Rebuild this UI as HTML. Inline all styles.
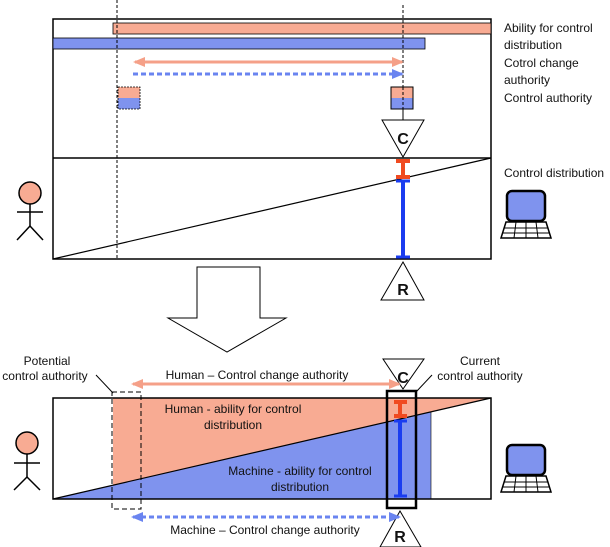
<!DOCTYPE html>
<html><head><style>body{margin:0;background:#fff}svg{display:block}text{font-family:"Liberation Sans",sans-serif;fill:#111}</style></head><body>
<svg width="610" height="547" viewBox="0 0 610 547" xmlns="http://www.w3.org/2000/svg">
<defs>
<marker id="pa" markerUnits="userSpaceOnUse" markerWidth="12" markerHeight="12" viewBox="0 0 12 12" refX="10" refY="6" orient="auto-start-reverse"><path d="M0,1 L12,6 L0,11Z" fill="#f5a088"/></marker>
<marker id="ba" markerUnits="userSpaceOnUse" markerWidth="12" markerHeight="12" viewBox="0 0 12 12" refX="10" refY="6" orient="auto-start-reverse"><path d="M0,1 L12,6 L0,11Z" fill="#6a84f0"/></marker>
</defs>
<!-- top box -->
<rect x="53" y="19" width="438" height="240" fill="#fff" stroke="#000" stroke-width="1.5"/>
<rect x="113" y="23" width="378" height="11" fill="#f8ab93" stroke="#000" stroke-width="0.8"/>
<rect x="53" y="38" width="372" height="11" fill="#7f93ee" stroke="#000" stroke-width="0.8"/>
<line x1="53" y1="158" x2="491" y2="158" stroke="#000" stroke-width="1.5"/>
<line x1="53" y1="259" x2="491" y2="158" stroke="#000" stroke-width="1.2"/>
<line x1="117" y1="0" x2="117" y2="260" stroke="#000" stroke-dasharray="3,2"/>
<line x1="403" y1="5" x2="403" y2="140" stroke="#000" stroke-dasharray="3,2"/>
<line x1="135" y1="62" x2="402" y2="62" stroke="#f5a088" stroke-width="3" marker-start="url(#pa)" marker-end="url(#pa)"/>
<line x1="133" y1="74" x2="402" y2="74" stroke="#6a84f0" stroke-width="3" stroke-dasharray="5,3" marker-end="url(#ba)"/>
<rect x="118" y="87" width="22" height="11" fill="#f8ab93"/><rect x="118" y="98" width="22" height="11" fill="#7f93ee"/>
<rect x="118" y="87" width="22" height="22" fill="none" stroke="#000" stroke-width="0.8" stroke-dasharray="2,1"/>
<rect x="391" y="87" width="22" height="11" fill="#f8ab93"/><rect x="391" y="98" width="22" height="11" fill="#7f93ee"/>
<rect x="391" y="87" width="22" height="22" fill="none" stroke="#000" stroke-width="1"/>
<line x1="403" y1="87" x2="403" y2="120" stroke="#000" stroke-dasharray="3,2"/>
<path d="M382,120 L424,120 L403,157Z" fill="#fff" stroke="#000"/>
<text x="403" y="144" font-size="16" font-weight="bold" text-anchor="middle">C</text>
<line x1="403" y1="161" x2="403" y2="177" stroke="#f04a20" stroke-width="4"/>
<line x1="396" y1="161" x2="410" y2="161" stroke="#f04a20" stroke-width="4"/>
<line x1="396" y1="177" x2="410" y2="177" stroke="#f04a20" stroke-width="4"/>
<line x1="403" y1="180" x2="403" y2="258" stroke="#1a3cf0" stroke-width="4"/>
<line x1="396" y1="181" x2="410" y2="181" stroke="#1a3cf0" stroke-width="3"/>
<line x1="396" y1="257" x2="410" y2="257" stroke="#1a3cf0" stroke-width="3"/>
<path d="M403,262 L424,300 L381,300Z" fill="#fff" stroke="#000"/>
<text x="403" y="295" font-size="16" font-weight="bold" text-anchor="middle">R</text>
<text font-size="12"><tspan x="504" y="32">Ability for control</tspan><tspan x="504" y="49">distribution</tspan><tspan x="504" y="67">Cotrol change</tspan><tspan x="504" y="84">authority</tspan><tspan x="504" y="102">Control authority</tspan><tspan x="504" y="177">Control distribution</tspan></text>
<!-- human top -->
<g stroke="#000" stroke-width="1.5" fill="none">
<circle cx="30" cy="193" r="11" fill="#f8ab93"/>
<line x1="30" y1="204" x2="30" y2="226"/><line x1="17" y1="212" x2="43" y2="212"/>
<line x1="30" y1="226" x2="17" y2="240"/><line x1="30" y1="226" x2="43" y2="240"/>
</g>
<!-- computer top -->
<g stroke="#000" stroke-width="1.5">
<rect x="507" y="191" width="38" height="30" rx="5" fill="#7f93ee" stroke-width="2.5"/>
<path d="M506,222 L546,222 L551,238 L501,238Z" fill="#fff"/>
<line x1="504" y1="228" x2="548" y2="228" stroke-width="1"/><line x1="503" y1="233" x2="549" y2="233" stroke-width="1"/>
<line x1="516" y1="222" x2="514" y2="238" stroke-width="1"/><line x1="526" y1="222" x2="526" y2="238" stroke-width="1"/><line x1="536" y1="222" x2="538" y2="238" stroke-width="1"/>
</g>
<!-- big arrow -->
<path d="M197,267 L260,267 L260,318 L286,318 L227,352 L168,318 L197,318Z" fill="#fff" stroke="#000"/>
<!-- bottom box -->
<rect x="53" y="398" width="438" height="101" fill="#fff"/>
<path d="M113,398 L491,398 L113,485.2Z" fill="#f8ab93"/>
<path d="M53,499 L431,411.8 L431,499Z" fill="#7f93ee"/>
<rect x="53" y="398" width="438" height="101" fill="none" stroke="#000" stroke-width="1.5"/>
<line x1="53" y1="499" x2="491" y2="398" stroke="#000" stroke-width="1.2"/>
<line x1="431" y1="412" x2="431" y2="499" stroke="#000" stroke-width="0.6"/>
<rect x="112" y="392" width="29" height="117" fill="none" stroke="#000" stroke-dasharray="5,3"/>
<rect x="387" y="391" width="29" height="117" fill="none" stroke="#000" stroke-width="2.5"/>
<line x1="400" y1="402" x2="400" y2="416" stroke="#f04a20" stroke-width="4"/>
<line x1="394" y1="402" x2="407" y2="402" stroke="#f04a20" stroke-width="4"/>
<line x1="394" y1="416" x2="407" y2="416" stroke="#f04a20" stroke-width="4"/>
<line x1="400" y1="420" x2="400" y2="497" stroke="#1a3cf0" stroke-width="4"/>
<line x1="394" y1="421" x2="407" y2="421" stroke="#1a3cf0" stroke-width="3"/>
<line x1="394" y1="496" x2="407" y2="496" stroke="#1a3cf0" stroke-width="3"/>
<path d="M383,359 L424,359 L403,389Z" fill="#fff" stroke="#000"/>
<text x="403" y="383" font-size="16" font-weight="bold" text-anchor="middle">C</text>
<path d="M400,511 L421,547 L380,547Z" fill="#fff" stroke="#000"/>
<text x="400" y="542" font-size="16" font-weight="bold" text-anchor="middle">R</text>
<line x1="133" y1="384" x2="399" y2="384" stroke="#f5a088" stroke-width="3" marker-start="url(#pa)" marker-end="url(#pa)"/>
<line x1="133" y1="517" x2="399" y2="517" stroke="#6a84f0" stroke-width="3" stroke-dasharray="5,3" marker-start="url(#ba)" marker-end="url(#ba)"/>
<line x1="96" y1="375" x2="113" y2="393" stroke="#000"/>
<line x1="432" y1="375" x2="416" y2="392" stroke="#000"/>
<text font-size="12" text-anchor="middle"><tspan x="47" y="365">Potential</tspan><tspan x="45" y="380">control authority</tspan><tspan x="480" y="365">Current</tspan><tspan x="480" y="380">control authority</tspan><tspan x="257" y="379">Human – Control change authority</tspan><tspan x="233" y="413">Human - ability for control</tspan><tspan x="233" y="429">distribution</tspan><tspan x="300" y="475">Machine - ability for control</tspan><tspan x="300" y="491">distribution</tspan><tspan x="265" y="534">Machine – Control change authority</tspan></text>
<!-- human bottom -->
<g stroke="#000" stroke-width="1.5" fill="none">
<circle cx="27" cy="443" r="11" fill="#f8ab93"/>
<line x1="27" y1="454" x2="27" y2="477"/><line x1="14" y1="463" x2="40" y2="463"/>
<line x1="27" y1="477" x2="14" y2="490"/><line x1="27" y1="477" x2="40" y2="490"/>
</g>
<g stroke="#000" stroke-width="1.5">
<rect x="507" y="445" width="38" height="30" rx="5" fill="#7f93ee" stroke-width="2.5"/>
<path d="M506,476 L546,476 L551,492 L501,492Z" fill="#fff"/>
<line x1="504" y1="482" x2="548" y2="482" stroke-width="1"/><line x1="503" y1="487" x2="549" y2="487" stroke-width="1"/>
<line x1="516" y1="476" x2="514" y2="492" stroke-width="1"/><line x1="526" y1="476" x2="526" y2="492" stroke-width="1"/><line x1="536" y1="476" x2="538" y2="492" stroke-width="1"/>
</g>
</svg>
</body></html>
